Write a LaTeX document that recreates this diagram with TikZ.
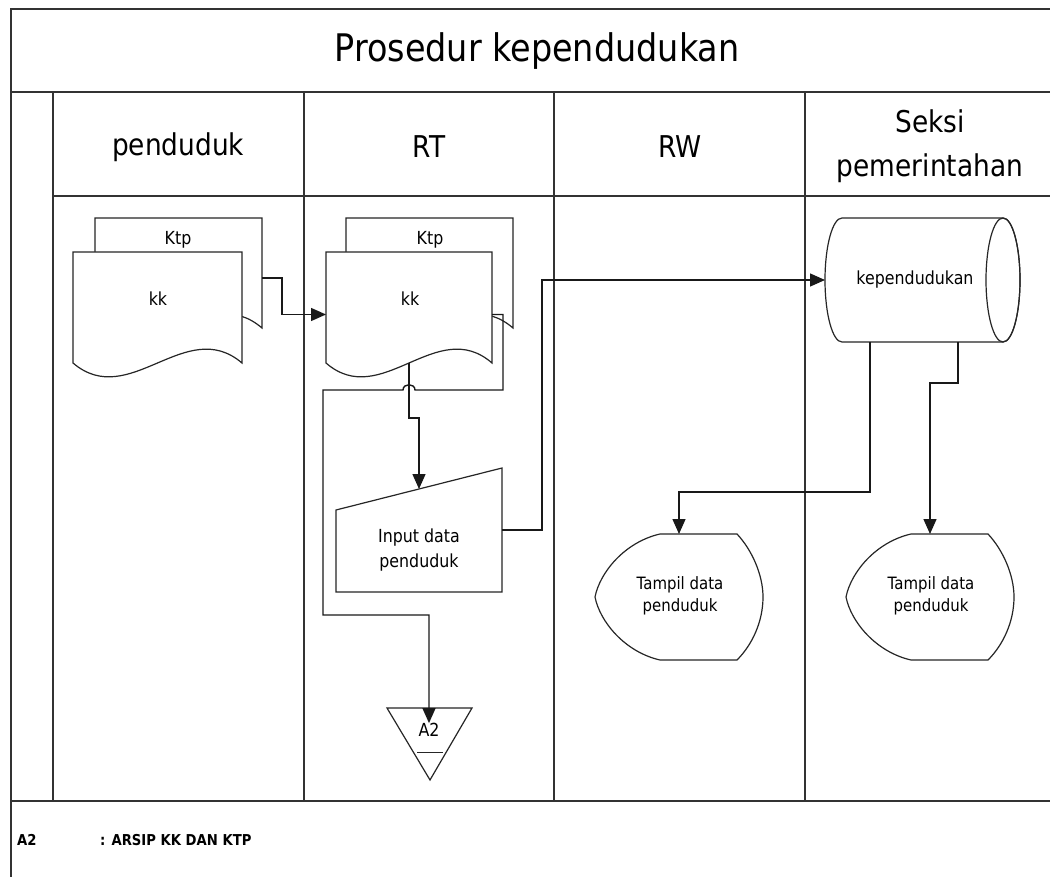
\documentclass[tikz,border=0pt]{standalone}
\usepackage{fontspec}
\setmainfont{DejaVu Sans}[FakeStretch=0.88]
\usetikzlibrary{arrows.meta,calc}

\tikzset{
  frame/.style={line width=1.6pt, draw=black!80},
  shapeline/.style={line width=1.2pt, draw=black!85, fill=white, line join=miter},
  flow/.style={line width=1.4pt, draw=black!90, -{Triangle[length=15pt,width=13pt]}},
  anchorbox/.style={draw=none, inner sep=0pt, outer sep=0pt},
  lbl/.style={inner sep=0pt, font=\fontsize{18}{22}\selectfont},
  headtxt/.style={inner sep=0pt, font=\fontsize{30}{34}\selectfont},
  titletxt/.style={inner sep=0pt, font=\fontsize{38}{44}\selectfont},
  foot/.style={inner sep=0pt, anchor=west, font=\fontsize{15}{17}\selectfont\bfseries},
}

% document symbol: left x, top y, right x, y where the wavy bottom meets the sides
\newcommand\docoutline[4]{%
  \draw[shapeline] (#1,#2) -- (#1,#4)
    .. controls ({#1+(#3-#1)/3},{#4+48}) and ({#1+2*(#3-#1)/3},{#4-48}) .. (#3,#4)
    -- (#3,#2) -- cycle;}

% display symbol with its flat top starting at x = #1
\newcommand\displayoutline[1]{%
  \begin{scope}[xshift=#1pt]
  \draw[shapeline] (660,534) -- (737,534)
    .. controls (752,550) and (763,575) .. (763,597)
    .. controls (763,622) and (752,645) .. (737,660)
    -- (660,660)
    .. controls (625,652) and (600,622) .. (595,597)
    .. controls (600,572) and (625,542) .. (660,534) -- cycle;
  \end{scope}}

\begin{document}
\begin{tikzpicture}[x=1pt,y=-1pt]
\useasboundingbox (0,0) rectangle (1050,877);
\fill[white] (0,0) rectangle (1050,877);

% swimlane frame
\draw[frame] (1050,9) -- (11,9) -- (11,877);
\draw[frame] (11,92) -- (1050,92);
\draw[frame] (53,92) -- (53,801);
\draw[frame] (53,196) -- (1050,196);
\draw[frame] (11,801) -- (1050,801);
\foreach \x in {304,554,805} \draw[frame] (\x,92) -- (\x,801);

% titles
\node[titletxt] (title) at (537,51) {Prosedur kependudukan};
\node[headtxt] (h1) at (178,147) {penduduk};
\node[headtxt] (h2) at (429,147) {RT};
\node[headtxt] (h3) at (680,147) {RW};
\node[headtxt] (h4a) at (930,121) {Seksi};
\node[headtxt] (h4b) at (930,168) {pemerintahan};

% documents in the penduduk lane
\docoutline{95}{218}{262}{328}
\docoutline{73}{252}{242}{363}
\node[anchorbox, minimum width=167pt, minimum height=110pt] (doc1b) at (178.5,273) {};
\node[anchorbox, minimum width=169pt, minimum height=111pt] (doc1f) at (157.5,307.5) {};
\node[lbl] (ktp1) at (178,240) {Ktp};
\node[lbl] (kk1) at (158,299) {kk};

% documents in the RT lane
\docoutline{346}{218}{513}{328}
\docoutline{326}{252}{492}{363}
\node[anchorbox, minimum width=167pt, minimum height=110pt] (doc2b) at (429.5,273) {};
\node[anchorbox, minimum width=166pt, minimum height=111pt] (doc2f) at (409,307.5) {};
\node[lbl] (ktp2) at (430,240) {Ktp};
\node[lbl] (kk2) at (410,299) {kk};

% manual input
\draw[shapeline] (336,510) -- (502,468) -- (502,592) -- (336,592) -- cycle;
\node[anchorbox, minimum width=166pt, minimum height=124pt] (inp) at (419,530) {};
\node[lbl, align=center, font=\fontsize{18}{25}\selectfont] (inptxt) at (419,550) {Input data\\penduduk};
\coordinate (inTop) at (419,489);

% stored data (cylinder)
\draw[shapeline] (842,218) -- (1003,218)
  .. controls (1012.4,218) and (1020,245.8) .. (1020,280)
  .. controls (1020,314.2) and (1012.4,342) .. (1003,342)
  -- (842,342)
  .. controls (832.6,342) and (825,314.2) .. (825,280)
  .. controls (825,245.8) and (832.6,218) .. (842,218) -- cycle;
\draw[shapeline, fill=none] (1003,280) ellipse [x radius=17pt, y radius=62pt];
\node[anchorbox, minimum width=180pt, minimum height=124pt] (cyl) at (915,280) {};
\node[lbl] (cyltxt) at (915,280) {kependudukan};

% displays
\displayoutline{0}
\displayoutline{251}
\node[anchorbox, minimum width=168pt, minimum height=126pt] (disp1) at (679,597) {};
\node[anchorbox, minimum width=168pt, minimum height=126pt] (disp2) at (930,597) {};
\node[lbl, align=center, font=\fontsize{17}{22}\selectfont] (disp1txt) at (680,596) {Tampil data\\penduduk};
\node[lbl, align=center, font=\fontsize{17}{22}\selectfont] (disp2txt) at (931,596) {Tampil data\\penduduk};

% off-page archive
\draw[shapeline] (387,708) -- (472,708) -- (430,780) -- cycle;
\node[lbl] (a2) at (429,730) {A2};
\draw[line width=1pt, draw=black!85] (417,752) -- (443,752);

% flows
\draw[flow] ([yshift=-5pt]doc1b.east) -- ++(20,0) |- ([yshift=-7pt]doc2f.west);
\draw[flow] (doc2f.south) -- ++(0,55) -| (inTop);
\draw[flow] ([yshift=-7pt]doc2f.east) -- ++(11,0) -- ++(0,75.5) -- (415,390)
  .. controls (415,383) and (403,383) .. (403,390) -- (323,390) -- (323,615) -| (a2.north);
\draw[flow] (inp.east) -- ++(40,0) |- (cyl.west);
\draw[flow] ([xshift=-45pt]cyl.south) -- ++(0,150) -| (disp1.north);
\draw[flow] ([xshift=43pt]cyl.south) -- ++(0,41) -| (disp2.north);

% legend
\node[foot] (legA) at (17,840) {A2};
\node[foot] (legB) at (100,840) {: ARSIP KK DAN KTP};
\end{tikzpicture}
\end{document}
